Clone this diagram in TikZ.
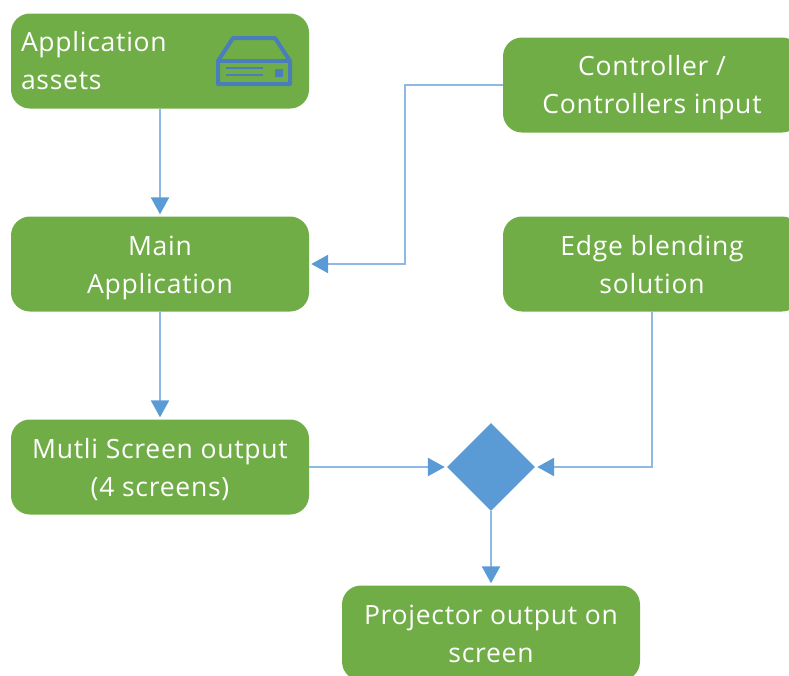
\documentclass[tikz,border=0pt]{standalone}
\usepackage{fontspec}
\setmainfont[LetterSpace=2.8]{Open Sans}
\usetikzlibrary{shapes.geometric,arrows.meta}
\definecolor{boxgreen}{HTML}{70AD47}
\definecolor{linkblue}{HTML}{5B9BD5}
\definecolor{linelight}{HTML}{8DB9E2}
\definecolor{iconblue}{HTML}{4A7EBB}
\tikzset{x=1pt,y=-1pt,
 greenbox/.style={fill=boxgreen,draw=none,rounded corners=19pt,minimum width=298pt,minimum height=95pt,inner sep=0pt,text=white,align=center,font=\fontsize{26.5}{38.5}\selectfont,
   execute at begin node={\rule{0pt}{#1}},execute at end node={\rule[-7pt]{0pt}{0pt}}},
 greenbox/.default=66.5pt,
 link/.style={draw=linelight,line width=2.5pt,shorten >=2pt,-{Triangle[length=17pt,width=18pt,color=linkblue]}}}
\begin{document}
\begin{tikzpicture}
\useasboundingbox (0,0) rectangle (789,675);
\node[greenbox=26pt,text width=278pt,align=left] (assets) at (160,61) {Application\\assets};
\node[greenbox=64.5pt] (ctrl) at (652,85) {Controller /\\Controllers input};
\node[greenbox] (main) at (160,264) {Main\\Application};
\node[greenbox] (edge) at (652,264) {Edge blending\\solution};
\node[greenbox] (multi) at (160,467) {Mutli Screen output\\(4 screens)};
\node[greenbox] (proj) at (491,633) {Projector output on\\screen};
\node[diamond,fill=linkblue,minimum width=88pt,minimum height=88pt,inner sep=0pt] (merge) at (491,467) {};
\draw[link] (assets) -- (main);
\draw[link] (main) -- (multi);
\draw[link] (ctrl.west) -- (405,85) -- (405,264) -- (main.east);
\draw[link] (edge.south) -- (652,467) -- (merge.east);
\draw[link] (multi.east) -- (merge.west);
\draw[link] (merge.south) -- (proj.north);
\draw[iconblue,line width=4pt,line join=round] (218,61) -- (233,38) -- (275,38) -- (290,61) -- (290,84) -- (218,84) -- cycle;
\draw[iconblue,line width=3.5pt] (218,61) -- (290,61);
\draw[iconblue,line width=1.6pt] (226,68) -- (263,68);
\draw[iconblue,line width=2.4pt] (226,75) -- (263,75);
\fill[iconblue] (275,69) rectangle (283,77);
\end{tikzpicture}
\end{document}
